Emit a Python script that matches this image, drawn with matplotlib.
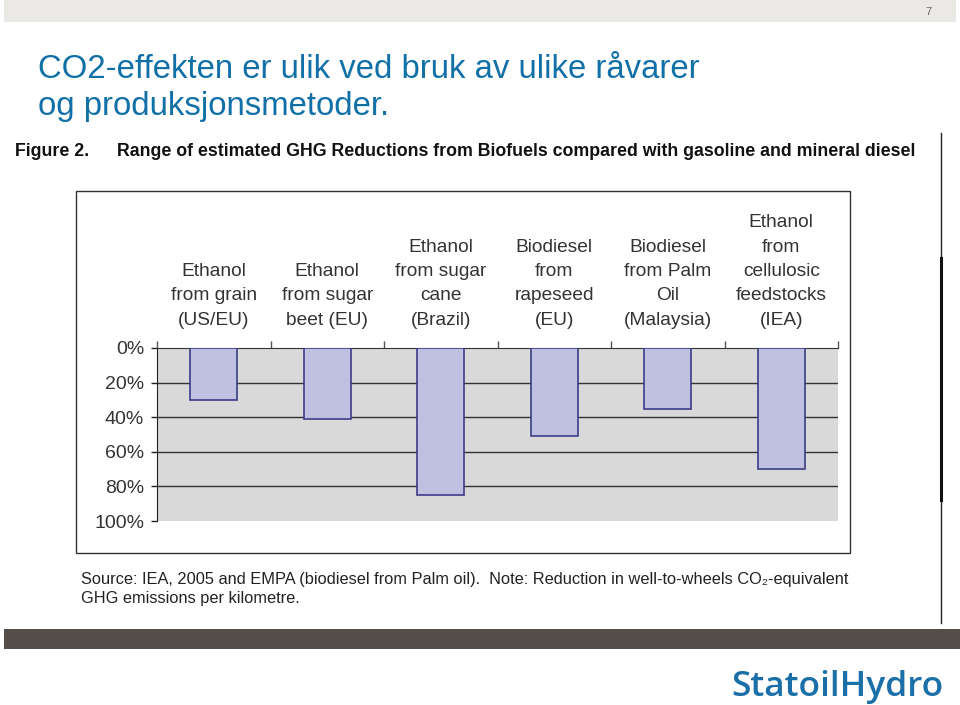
import matplotlib.pyplot as plt
from matplotlib.patches import Rectangle
from matplotlib.lines import Line2D

# data
categories = ['Ethanol\nfrom grain\n(US/EU)', 'Ethanol\nfrom sugar\nbeet (EU)',
              'Ethanol\nfrom sugar\ncane\n(Brazil)', 'Biodiesel\nfrom\nrapeseed\n(EU)',
              'Biodiesel\nfrom Palm\nOil\n(Malaysia)', 'Ethanol\nfrom\ncellulosic\nfeedstocks\n(IEA)']
reduction = [30, 41, 85, 51, 35, 70]
y_ticks = [0, 20, 40, 60, 80, 100]
y_labels = ['0%', '20%', '40%', '60%', '80%', '100%']

W, H = 960, 705
fig = plt.figure(figsize=(W / 100, H / 100), dpi=100)
fig.patch.set_facecolor('white')

def px(x0, y0, x1, y1):
    # pixel box (top-left origin) -> figure fraction rect
    return [x0 / W, 1 - y1 / H, (x1 - x0) / W, (y1 - y0) / H]

# slide decoration
fig.patches.append(Rectangle((4 / W, 1 - 22 / H), 952 / W, 22 / H, transform=fig.transFigure,
                             facecolor='#ebe9e6', edgecolor='none', zorder=-2))
fig.text(928 / W, 1 - 12 / H, '7', fontsize=8, color='#666666', family='Liberation Sans',
         ha='center', va='center')
fig.patches.append(Rectangle((4 / W, 1 - 649 / H), 956 / W, 20 / H, transform=fig.transFigure,
                             facecolor='#554d48', edgecolor='none', zorder=-2))

title_blue = '#1170a8'
fig.text(38 / W, 1 - 78 / H, 'CO2-effekten er ulik ved bruk av ulike råvarer',
         fontsize=23.7, color=title_blue, family='Liberation Sans', ha='left', va='baseline')
fig.text(38 / W, 1 - 115 / H, 'og produksjonsmetoder.',
         fontsize=23.7, color=title_blue, family='Liberation Sans', ha='left', va='baseline')

fig.text(15 / W, 1 - 156 / H, 'Figure 2.', fontsize=12.8, fontweight='bold', color='#111111',
         family='Liberation Sans', ha='left', va='baseline')
fig.text(117 / W, 1 - 156 / H,
         'Range of estimated GHG Reductions from Biofuels compared with gasoline and mineral diesel',
         fontsize=12.8, fontweight='bold', color='#111111',
         family='Liberation Sans', ha='left', va='baseline')

# right margin line
fig.add_artist(Line2D([941 / W, 941 / W], [1 - 133 / H, 1 - 623 / H], transform=fig.transFigure,
                      color='#222222', lw=1))
fig.add_artist(Line2D([941 / W, 941 / W], [1 - 258 / H, 1 - 500 / H], transform=fig.transFigure,
                      color='#111111', lw=2.2))

# chart frame (behind the axes)
fig.patches.append(Rectangle((76 / W, 1 - 553 / H), 774 / W, 362 / H, transform=fig.transFigure,
                             facecolor='white', edgecolor='#333333', lw=1, zorder=-1))

ax = fig.add_axes(px(157, 348, 838, 521))
ax.set_facecolor('#d9d9d9')
x = list(range(len(categories)))
ax.bar(x, reduction, width=0.41, color='#c0c0e0', edgecolor='#3c3c8a', linewidth=1.2, zorder=3)
ax.set_xlim(-0.5, len(categories) - 0.5)
ax.set_ylim(100, 0)
ax.set_yticks(y_ticks)
ax.set_yticklabels(y_labels)
for t in y_ticks[1:-1]:
    ax.axhline(t, color='#333333', lw=1, zorder=1)
ax.tick_params(axis='y', direction='out', length=4.3, width=1, color='#222222',
               labelsize=14, labelcolor='#333333', pad=5)
for lab in ax.get_yticklabels():
    lab.set_family('Liberation Sans')

ax.xaxis.tick_top()
ax.set_xticks([i - 0.5 for i in x] + [len(categories) - 0.5])
ax.set_xticklabels([])
ax.tick_params(axis='x', which='major', direction='out', length=5, width=1, color='#555555')
ax.set_xticks(x, minor=True)
ax.set_xticklabels(categories, minor=True)
ax.tick_params(axis='x', which='minor', length=0, pad=14, labelsize=13.8, labelcolor='#333333')
for lab in ax.get_xticklabels(minor=True):
    lab.set_family('Liberation Sans')
    lab.set_linespacing(1.56)

for side in ['right', 'bottom']:
    ax.spines[side].set_visible(False)
ax.spines['left'].set_color('#222222')
ax.spines['top'].set_color('#333333')

fig.text(81 / W, 1 - 584 / H,
         'Source: IEA, 2005 and EMPA (biodiesel from Palm oil).  Note: Reduction in well-to-wheels CO₂-equivalent',
         fontsize=11.8, color='#222222', family=['Liberation Sans', 'DejaVu Sans'],
         ha='left', va='baseline')
fig.text(81 / W, 1 - 603 / H, 'GHG emissions per kilometre.',
         fontsize=11.8, color='#222222', family=['Liberation Sans', 'DejaVu Sans'],
         ha='left', va='baseline')

fig.text(731 / W, 1 - 696 / H, 'StatoilHydro', fontsize=25.5, fontweight='semibold',
         color='#1a6fa8', family='Open Sans', ha='left', va='baseline')

fig.savefig('out.png', dpi=100)
